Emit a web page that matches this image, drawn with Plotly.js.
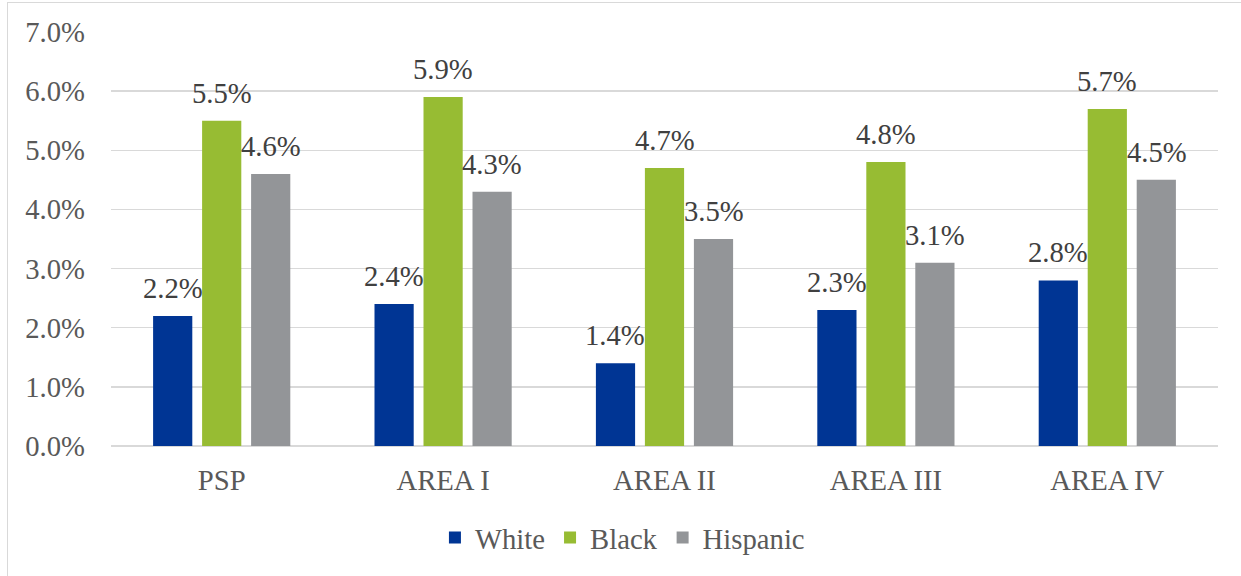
<!DOCTYPE html>
<html>
<head>
<meta charset="utf-8">
<script src="https://cdn.plot.ly/plotly-3.0.1.min.js"></script>
<style>
html,body{margin:0;padding:0;background:#fff;overflow:hidden;}
#chart{width:1241px;height:576px;}
#frame{position:absolute;left:7px;top:2px;width:1240px;height:600px;border:1px solid #d9d9d9;pointer-events:none;box-sizing:border-box;}
</style>
</head>
<body>
<div id="chart"></div>
<div id="frame"></div>
<script>
const categories = ["PSP", "AREA I", "AREA II", "AREA III", "AREA IV"];
const seriesNames = ["White", "Black", "Hispanic"];
const whiteValues = [2.2, 2.4, 1.4, 2.3, 2.8];
const blackValues = [5.5, 5.9, 4.7, 4.8, 5.7];
const hispanicValues = [4.6, 4.3, 3.5, 3.1, 4.5];
const yTickValues = [0, 1, 2, 3, 4, 5, 6, 7];

const colors = ["#003594", "#97bc33", "#939598"];
const font = "Liberation Serif";
const fsize = 28.7;
const allValues = [whiteValues, blackValues, hispanicValues];
const groupShift = [-49.2, 0, 49.2];

const traces = allValues.map((vals, i) => ({
  type: "bar",
  name: seriesNames[i],
  x: categories,
  y: vals,
  marker: {color: colors[i]},
  hoverinfo: "x+y"
}));

const annotations = [];
allValues.forEach((vals, i) => {
  vals.forEach((v, j) => {
    annotations.push({
      x: categories[j], y: v, xref: "x", yref: "y",
      text: v.toFixed(1) + "%",
      showarrow: false,
      xshift: groupShift[i],
      yshift: 28,
      yanchor: "middle",
      xanchor: "center",
      font: {family: font, size: fsize, color: "#404040"}
    });
  });
});

const layout = {
  width: 1241, height: 576,
  margin: {l: 111, r: 23, t: 32, b: 130},
  paper_bgcolor: "rgba(0,0,0,0)",
  plot_bgcolor: "#fff",
  barmode: "group",
  bargap: 0.336,
  bargroupgap: 0.2,
  font: {family: font, size: fsize, color: "#595959"},
  xaxis: {
    type: "category",
    showgrid: false,
    showline: false,
    ticks: "",
    ticklabelstandoff: 14,
    tickfont: {family: font, size: fsize, color: "#595959"}
  },
  yaxis: {
    range: [0, 7],
    tickvals: yTickValues,
    ticktext: yTickValues.map(v => v.toFixed(1) + "%"),
    showgrid: true,
    gridcolor: "#d9d9d9",
    gridwidth: 1.3,
    zeroline: true,
    zerolinecolor: "#d9d9d9",
    zerolinewidth: 1.3,
    showline: false,
    ticks: "",
    ticklabelstandoff: 25,
    tickfont: {family: font, size: fsize, color: "#595959"}
  },
  annotations: annotations,
  showlegend: true,
  legend: {
    orientation: "h",
    x: 0.462, xanchor: "center",
    y: -0.222, yanchor: "middle",
    font: {family: font, size: fsize, color: "#595959"},
    itemwidth: 30,
    traceorder: "normal"
  }
};

Plotly.newPlot("chart", traces, layout, {displayModeBar: false, staticPlot: true});
</script>
</body>
</html>
